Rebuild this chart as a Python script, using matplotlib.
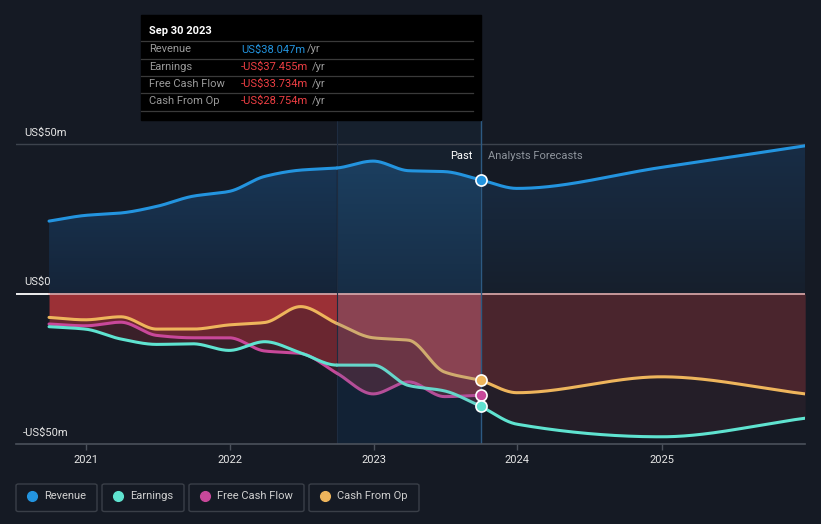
import numpy as np
import pandas as pd
import matplotlib
matplotlib.use('Agg')
import matplotlib.pyplot as plt
import matplotlib.dates as mdates
from matplotlib.colors import to_rgb
from matplotlib.patches import Rectangle, FancyBboxPatch
from matplotlib.lines import Line2D

plt.rcParams['font.family'] = ['Roboto', 'DejaVu Sans']

# --- data (US$m, trailing twelve months) ---
past_dates = ['2020-09-30', '2020-12-31', '2021-03-31', '2021-06-30', '2021-09-30',
              '2021-12-31', '2022-03-31', '2022-06-30', '2022-09-30', '2022-12-31',
              '2023-03-31', '2023-06-30', '2023-09-30']
revenue_past = [24.3, 26.2, 27.0, 29.2, 32.6, 34.2, 39.2, 41.3, 42.0, 44.3, 41.1, 40.8, 38.047]
earnings_past = [-10.9, -11.7, -15.0, -16.8, -16.6, -18.8, -15.9, -19.6, -23.7, -23.7, -30.5, -32.3, -37.455]
fcf_past = [-10.0, -10.6, -9.4, -13.8, -14.6, -14.6, -19.0, -19.8, -26.4, -33.3, -29.3, -34.2, -33.734]
cfo_past = [-7.8, -8.6, -7.6, -11.7, -11.7, -10.3, -9.5, -4.2, -9.8, -14.6, -15.4, -26.0, -28.754]

fc_dates = ['2023-09-30', '2023-12-31', '2024-12-31', '2025-12-31']
revenue_fc = [38.047, 35.2, 42.2, 49.4]
earnings_fc = [-37.455, -43.4, -47.6, -41.4]
cfo_fc = [-28.754, -32.9, -27.6, -33.3]

year_ticks = ['2021', '2022', '2023', '2024', '2025']

BG = '#151a24'
C_REV = '#2394df'
C_EARN = '#5fe3d0'
C_FCF = '#c8489a'
C_CFO = '#eeb55c'


def pchip(xk, yk, xs):
    """monotone cubic through the points, only used to draw smooth curves"""
    xk = np.asarray(xk, float)
    yk = np.asarray(yk, float)
    h = np.diff(xk)
    d = np.diff(yk) / h
    m = np.zeros_like(yk)
    for k in range(1, len(yk) - 1):
        if d[k - 1] * d[k] > 0:
            w1 = 2 * h[k] + h[k - 1]
            w2 = h[k] + 2 * h[k - 1]
            m[k] = (w1 + w2) / (w1 / d[k - 1] + w2 / d[k])
    m[0] = d[0]
    m[-1] = d[-1]
    idx = np.clip(np.searchsorted(xk, xs) - 1, 0, len(h) - 1)
    t = (xs - xk[idx]) / h[idx]
    h00 = 2 * t**3 - 3 * t**2 + 1
    h10 = t**3 - 2 * t**2 + t
    h01 = -2 * t**3 + 3 * t**2
    h11 = t**3 - t**2
    return h00 * yk[idx] + h10 * h[idx] * m[idx] + h01 * yk[idx + 1] + h11 * h[idx] * m[idx + 1]


W, H = 821, 524
fig = plt.figure(figsize=(W / 100, H / 100), dpi=100, facecolor=BG)
ax = fig.add_axes([16 / W, (H - 444) / H, (805 - 16) / W, (444 - 120) / H])
ax.set_facecolor(BG)


def fx(x):
    return x / W


def fy(y):
    return 1 - y / H


t2021 = mdates.date2num(pd.Timestamp('2021-01-01'))


def px2num(p):
    return t2021 + (p - 85.7) / 144.0 * 365.25


XL = (px2num(16), px2num(805))
YL = (-50, 58)

xp = mdates.date2num(pd.to_datetime(past_dates))
xf = mdates.date2num(pd.to_datetime(fc_dates))
xb = xp[8]   # start of last-12-months band
xe = xp[-1]  # last reported

g_pre = np.linspace(xp[0], xb, 300)
g_band = np.linspace(xb, xe, 200)
g_fc = np.linspace(xf[0], xf[-1], 400)
g_past = np.linspace(xp[0], xe, 600)


def grad_fill(grid, y_hi, c_top, c_bot, top=50):
    poly = ax.fill_between(grid, 0, y_hi, color='none', lw=0)
    c1, c0 = np.array(to_rgb(c_top)), np.array(to_rgb(c_bot))
    f = np.linspace(1, 0, 200)[:, None]
    img = (c0 + (c1 - c0) * f)[:, None, :].repeat(2, axis=1)
    im = ax.imshow(img, extent=[grid[0], grid[-1], 0, top], aspect='auto',
                   interpolation='bilinear', zorder=1)
    im.set_clip_path(poly.get_paths()[0], transform=ax.transData)


# band background
ax.fill_between([xb, xe], 0, 58, color='#16202d', lw=0, zorder=0.5)
ax.fill_between([xb, xe], -50, 0, color='#122235', lw=0, zorder=0.5)

# revenue area
grad_fill(g_pre, pchip(xp, revenue_past, g_pre), '#19395a', '#152438')
grad_fill(g_band, pchip(xp, revenue_past, g_band), '#1c4163', '#172d45')
grad_fill(g_fc, pchip(xf, revenue_fc, g_fc), '#182d46', '#161f2c')


def neg_layers(grid, series, colors):
    s = np.sort(np.vstack([pchip(xk, yk, grid) for xk, yk in series]), axis=0)[::-1]
    upper = np.zeros_like(grid)
    for row, c in zip(s, colors):
        ax.fill_between(grid, upper, row, color=c, lw=0, zorder=1)
        upper = row


past_neg = [(xp, earnings_past), (xp, fcf_past), (xp, cfo_past)]
neg_layers(g_pre, past_neg, ['#9b3036', '#6a2630', '#3a2029'])
neg_layers(g_band, past_neg, ['#8a4352', '#6b3545', '#3f2a3d'])
neg_layers(g_fc, [(xf, earnings_fc), (xf, cfo_fc)], ['#4a252d', '#241e28'])

# reference lines
ax.axhline(50, color='#3d434d', lw=1, zorder=2)
ax.plot([XL[0], xp[0]], [0, 0], color='#ffffff', lw=1.3, zorder=2)
ax.plot([xp[0], xf[-1]], [0, 0], color='#f2b8b8', lw=1.1, zorder=2)
ax.axvline(xb, color='#1e2c40', lw=0.8, zorder=2)
ax.axvline(xe, color='#2d5a82', lw=1.0, zorder=2)

# lines (muted inside the last-12-months band)
g_pre_l = np.linspace(xp[0], xb, 400)
for xk, yk, col, mut in [(xp, cfo_past, C_CFO, '#d0ab6e'), (xp, fcf_past, C_FCF, '#b44e98'),
                         (xp, earnings_past, C_EARN, '#66d6ca'), (xp, revenue_past, C_REV, C_REV)]:
    ax.plot(g_pre_l, pchip(xk, yk, g_pre_l), color=col, lw=2.2, zorder=3, solid_capstyle='round')
    ax.plot(g_band, pchip(xk, yk, g_band), color=mut, lw=2.2, zorder=3, solid_capstyle='round')
for xk, yk, col in [(xf, cfo_fc, C_CFO), (xf, earnings_fc, C_EARN), (xf, revenue_fc, C_REV)]:
    ax.plot(g_fc, pchip(xk, yk, g_fc), color=col, lw=2.2, zorder=3, solid_capstyle='round')

for yk, col in [(revenue_past, C_REV), (cfo_past, C_CFO), (fcf_past, C_FCF), (earnings_past, C_EARN)]:
    ax.plot([xe], [yk[-1]], 'o', ms=8, mfc=col, mec='white', mew=1.2, zorder=4)

ax.set_xlim(*XL)
ax.set_ylim(*YL)

# axes styling
for s in ['top', 'right', 'left']:
    ax.spines[s].set_visible(False)
ax.spines['bottom'].set_color('#4b515b')
ax.spines['bottom'].set_linewidth(1.2)
ax.set_yticks([])
ax.set_xticks(mdates.date2num(pd.to_datetime([y + '-01-01' for y in year_ticks])))
ax.set_xticklabels(year_ticks)
ax.tick_params(axis='x', colors='#4b515b', length=4, width=1, labelcolor='#e6e6e6',
               labelsize=8, pad=4)

# y labels
fig.text(fx(24), fy(132.5), 'US$50m', color='#e6e6e6', fontsize=8, va='center')
fig.text(fx(24), fy(282), 'US$0', color='#e6e6e6', fontsize=8, va='center')
fig.text(fx(23), fy(433), '-US$50m', color='#e6e6e6', fontsize=8, va='center')

fig.text(fx(472), fy(156), 'Past', color='#ffffff', fontsize=8, va='center', ha='right')
fig.text(fx(488), fy(156), 'Analysts Forecasts', color='#8e949c', fontsize=8, va='center')

# tooltip
fig.patches.append(Rectangle((fx(141), fy(120)), fx(481 - 141), (120 - 15) / H,
                             transform=fig.transFigure, color='#000000', zorder=5))
fig.text(fx(149), fy(31), 'Sep 30 2023', color='#ffffff', fontsize=8, weight='bold',
         va='center', zorder=6)
for yy in [41, 58.7, 76, 93.3, 111]:
    fig.lines.append(Line2D([fx(141), fx(473)], [fy(yy), fy(yy)], transform=fig.transFigure,
                            color='#3a3a3a', lw=0.9, zorder=6))
rows = [('Revenue', 'US$38.047m', C_REV, 49.5, 307),
        ('Earnings', '-US$37.455m', '#ee3f44', 66.8, 312),
        ('Free Cash Flow', '-US$33.734m', '#ee3f44', 84.2, 312),
        ('Cash From Op', '-US$28.754m', '#ee3f44', 101.3, 312)]
for lab, val, col, yy, xu in rows:
    fig.text(fx(149), fy(yy), lab, color='#9a9a9a', fontsize=8, va='center', zorder=6)
    fig.text(fx(241), fy(yy), val, color=col, fontsize=8, va='center', zorder=6)
    fig.text(fx(xu), fy(yy), '/yr', color='#9a9a9a', fontsize=8, va='center', zorder=6)

# legend
legend = [('Revenue', C_REV, 16, 97), ('Earnings', C_EARN, 102, 184),
          ('Free Cash Flow', C_FCF, 189, 304), ('Cash From Op', C_CFO, 309, 419)]
for lab, col, x0, x1 in legend:
    fig.patches.append(FancyBboxPatch((fx(x0), fy(511.5)), fx(x1 - x0), 27.5 / H,
                                      boxstyle='round,pad=0,rounding_size=0.003',
                                      transform=fig.transFigure, facecolor='none',
                                      edgecolor='#3a3f48', lw=1))
    fig.lines.append(Line2D([fx(x0 + 16)], [fy(496)], marker='o', ms=7, color=col,
                            mec=col, transform=fig.transFigure))
    fig.text(fx(x0 + 28), fy(496), lab, color='#d0d0d0', fontsize=8, va='center')

fig.savefig('out.png', dpi=100, facecolor=BG)
